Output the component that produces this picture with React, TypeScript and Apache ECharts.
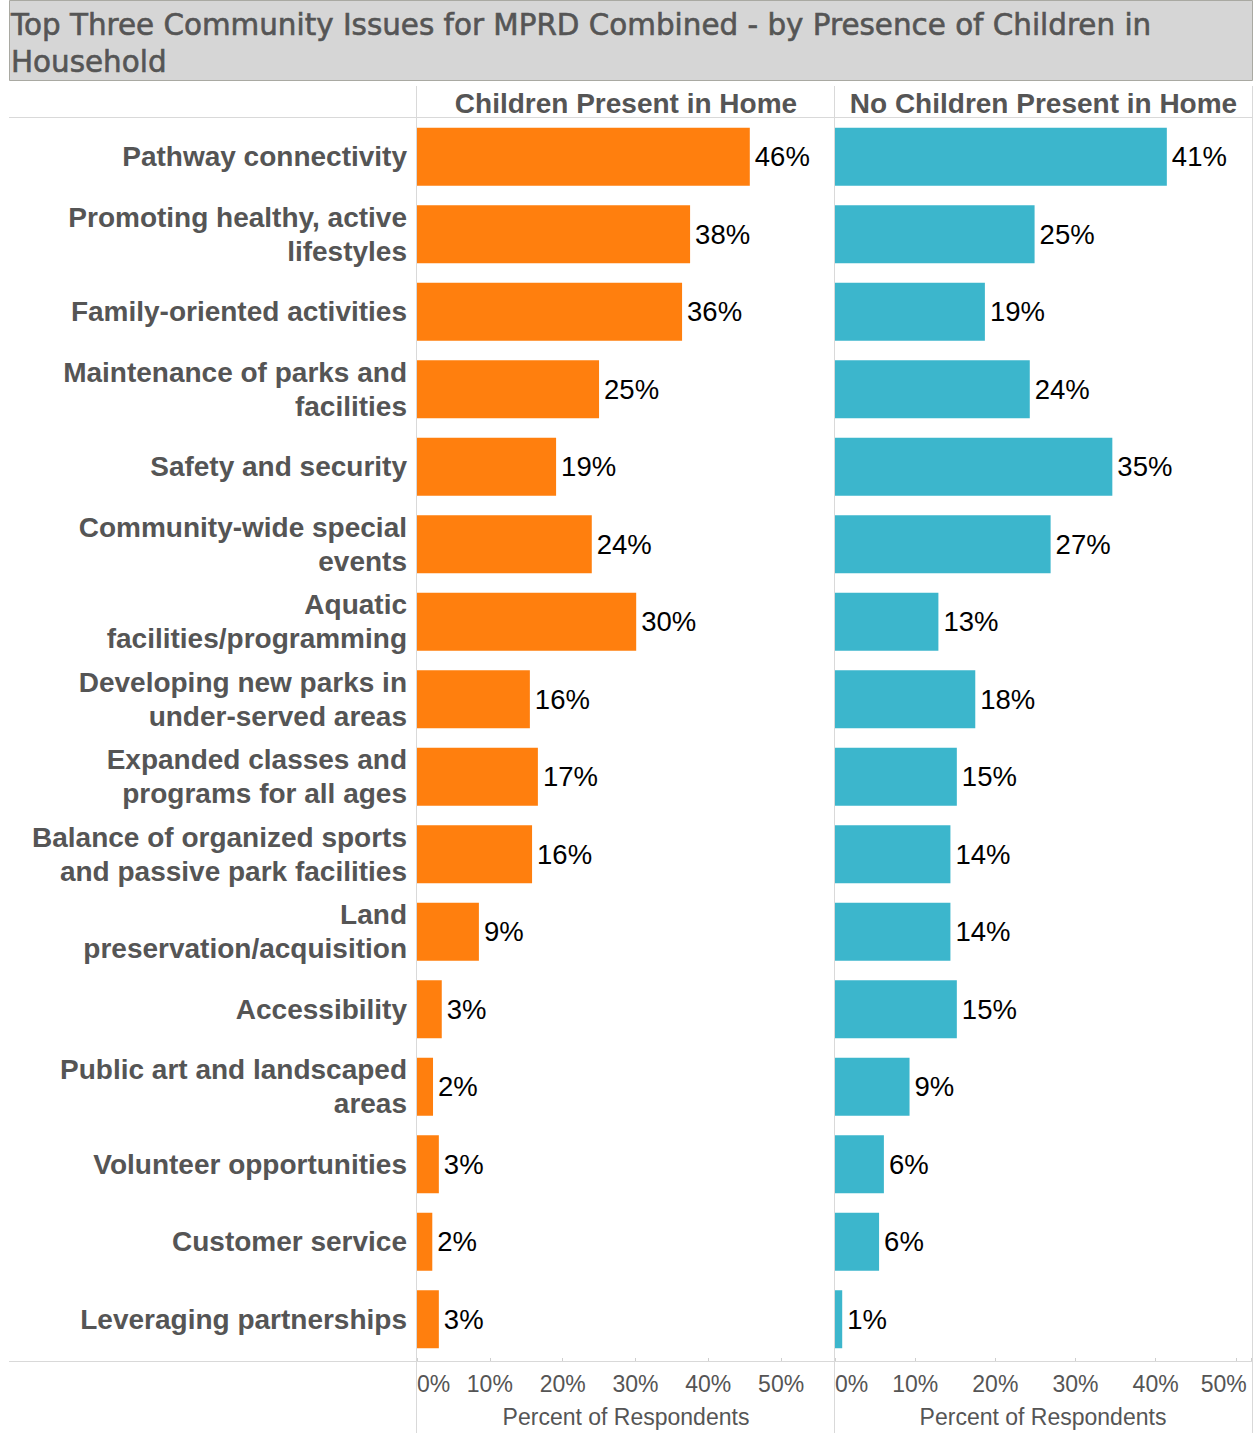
import React, { useEffect, useRef } from "react";
import * as echarts from "echarts";

const categories: string[] = [
  "Pathway connectivity",
  "Promoting healthy, active\nlifestyles",
  "Family-oriented activities",
  "Maintenance of parks and\nfacilities",
  "Safety and security",
  "Community-wide special\nevents",
  "Aquatic\nfacilities/programming",
  "Developing new parks in\nunder-served areas",
  "Expanded classes and\nprograms for all ages",
  "Balance of organized sports\nand passive park facilities",
  "Land\npreservation/acquisition",
  "Accessibility",
  "Public art and landscaped\nareas",
  "Volunteer opportunities",
  "Customer service",
  "Leveraging partnerships",
];

const childrenPresent: number[] = [45.7, 37.5, 36.4, 25.0, 19.1, 24.0, 30.1, 15.5, 16.6, 15.8, 8.5, 3.4, 2.2, 3.0, 2.1, 3.0];
const noChildrenPresent: number[] = [41.4, 24.9, 18.7, 24.3, 34.6, 26.9, 12.9, 17.5, 15.2, 14.4, 14.4, 15.2, 9.3, 6.1, 5.5, 0.9];

const panelTitles: string[] = ["Children Present in Home", "No Children Present in Home"];
const titleLines: string[] = [
  "Top Three Community Issues for MPRD Combined - by Presence of Children in",
  "Household",
];
const axisName = "Percent of Respondents";

const FONT = "'Liberation Sans', Arial, sans-serif";
const GRAY = "#555555";
const LINE = "#d9d9d9";

export default function App() {
  const ref = useRef<HTMLDivElement>(null);

  useEffect(() => {
    if (!ref.current) return;
    const chart = echarts.init(ref.current, undefined, { renderer: "svg" });

    const top = 118;
    const bottom = 1362;
    const gx = [417, 835, 1252];

    const xAxisCommon = (max: number, shiftLast: boolean) => ({
      type: "value",
      min: 0,
      max,
      interval: 10,
      splitLine: { show: false },
      axisLine: { show: false },
      axisTick: { show: true, length: 4, lineStyle: { color: "#cfcfcf", width: 1 } },
      axisLabel: {
        margin: 14,
        fontFamily: FONT,
        fontSize: 23,
        color: GRAY,
        alignMinLabel: "left",
        formatter: (v: number) => {
          if (Math.abs(v % 10) > 1e-6) return "";
          if (shiftLast && v === 50) return "{s|50%}";
          return v + "%";
        },
        rich: {
          s: { fontFamily: FONT, fontSize: 23, color: GRAY, padding: [0, 24, 0, 0] },
        },
      },
      name: axisName,
      nameLocation: "middle",
      nameGap: 47,
      nameTextStyle: { fontFamily: FONT, fontSize: 23, color: GRAY },
    });

    const labelCfg = {
      show: true,
      position: "right",
      distance: 5,
      fontFamily: FONT,
      fontSize: 27.5,
      color: "#000000",
      formatter: (p: any) => Math.round(p.value) + "%",
    };

    const vline = (x: number) => ({
      type: "line",
      z: 100,
      shape: { x1: x + 0.5, y1: 86, x2: x + 0.5, y2: 1433 },
      style: { stroke: LINE, lineWidth: 1 },
    });
    const hline = (y: number) => ({
      type: "line",
      z: 100,
      shape: { x1: 9, y1: y + 0.5, x2: 1253, y2: y + 0.5 },
      style: { stroke: LINE, lineWidth: 1 },
    });

    const titleStyle = (text: string) => ({
      text,
      fontFamily: "'DejaVu Sans', sans-serif",
      fontSize: 29.4,
      fill: GRAY,
      stroke: GRAY,
      lineWidth: 0.6,
      verticalAlign: "middle",
      align: "left",
    });

    const option: any = {
      animation: false,
      backgroundColor: "#ffffff",
      grid: [
        { left: gx[0], top, width: gx[1] - gx[0], height: bottom - top },
        { left: gx[1], top, width: gx[2] - gx[1], height: bottom - top },
      ],
      xAxis: [
        { gridIndex: 0, ...xAxisCommon(57.4, false) },
        { gridIndex: 1, ...xAxisCommon(51.9, true) },
      ],
      yAxis: [
        {
          gridIndex: 0,
          type: "category",
          inverse: true,
          data: categories,
          axisLine: { show: false },
          axisTick: { show: false },
          axisLabel: {
            margin: 10,
            fontFamily: FONT,
            fontSize: 28,
            fontWeight: "bold",
            color: GRAY,
            lineHeight: 34,
            align: "right",
          },
        },
        {
          gridIndex: 1,
          type: "category",
          inverse: true,
          data: categories,
          axisLine: { show: false },
          axisTick: { show: false },
          axisLabel: { show: false },
        },
      ],
      series: [
        {
          type: "bar",
          xAxisIndex: 0,
          yAxisIndex: 0,
          data: childrenPresent,
          barWidth: 58,
          itemStyle: { color: "#FF7F0E" },
          label: labelCfg,
        },
        {
          type: "bar",
          xAxisIndex: 1,
          yAxisIndex: 1,
          data: noChildrenPresent,
          barWidth: 58,
          itemStyle: { color: "#3CB6CC" },
          label: labelCfg,
        },
      ],
      graphic: [
        {
          type: "rect",
          z: 100,
          shape: { x: 9.5, y: 0.5, width: 1243, height: 80 },
          style: { fill: "#d6d6d6", stroke: "#a9a9a2", lineWidth: 1 },
        },
        { type: "text", z: 101, x: 11, y: 25, style: titleStyle(titleLines[0]) },
        { type: "text", z: 101, x: 11, y: 62, style: titleStyle(titleLines[1]) },
        {
          type: "text",
          z: 101,
          x: (gx[0] + gx[1]) / 2,
          y: 103,
          style: {
            text: panelTitles[0],
            fontFamily: FONT,
            fontSize: 28,
            fontWeight: "bold",
            fill: GRAY,
            align: "center",
            verticalAlign: "middle",
          },
        },
        {
          type: "text",
          z: 101,
          x: (gx[1] + gx[2]) / 2,
          y: 103,
          style: {
            text: panelTitles[1],
            fontFamily: FONT,
            fontSize: 28,
            fontWeight: "bold",
            fill: GRAY,
            align: "center",
            verticalAlign: "middle",
          },
        },
        vline(gx[0] - 1),
        vline(gx[1] - 1),
        vline(gx[2]),
        hline(117),
        hline(1361),
      ],
    };

    chart.setOption(option);
    return () => chart.dispose();
  }, []);

  return (
    <div
      ref={ref}
      style={{ position: "absolute", left: 0, top: 0, width: 1254, height: 1433 }}
    />
  );
}
